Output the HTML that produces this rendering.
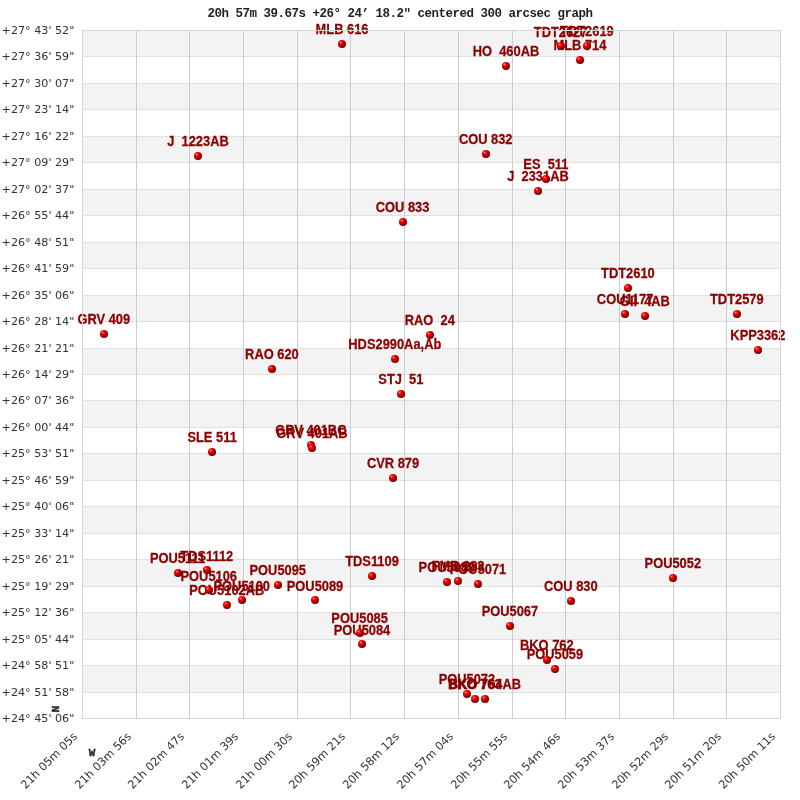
<!DOCTYPE html><html><head><meta charset="utf-8"><style>html,body{margin:0;padding:0;background:#fff;width:800px;height:800px;overflow:hidden}svg{display:block;will-change:transform}.yl{font-family:"DejaVu Sans",sans-serif;font-size:11.15px;fill:#333333}.xl{font-family:"DejaVu Sans",sans-serif;font-size:11.3px;fill:#333333}.lb{font-family:"Liberation Sans",Arial,sans-serif;font-weight:bold;font-size:14px;fill:#8b0000;stroke:#8b0000;stroke-width:0.25px}.tt{font-family:"Liberation Mono",monospace;font-weight:bold;font-size:12.5px;letter-spacing:-0.5px;fill:#222}</style></head><body>
<svg width="800" height="800" viewBox="0 0 800 800">
<defs><radialGradient id="g" cx="0.36" cy="0.33" r="0.75" fx="0.34" fy="0.3"><stop offset="0" stop-color="#ffb0b0"/><stop offset="0.12" stop-color="#ff4545"/><stop offset="0.3" stop-color="#f00000"/><stop offset="0.55" stop-color="#c00000"/><stop offset="0.8" stop-color="#800000"/><stop offset="1" stop-color="#380000"/></radialGradient></defs>
<text class="tt" x="400" y="17" text-anchor="middle">20h 57m 39.67s +26° 24’ 18.2" centered 300 arcsec graph</text>
<rect x="82" y="30" width="698" height="26" fill="#f3f3f3"/>
<rect x="82" y="83" width="698" height="26" fill="#f3f3f3"/>
<rect x="82" y="136" width="698" height="26" fill="#f3f3f3"/>
<rect x="82" y="189" width="698" height="26" fill="#f3f3f3"/>
<rect x="82" y="242" width="698" height="26" fill="#f3f3f3"/>
<rect x="82" y="295" width="698" height="26" fill="#f3f3f3"/>
<rect x="82" y="348" width="698" height="26" fill="#f3f3f3"/>
<rect x="82" y="400" width="698" height="27" fill="#f3f3f3"/>
<rect x="82" y="453" width="698" height="27" fill="#f3f3f3"/>
<rect x="82" y="506" width="698" height="27" fill="#f3f3f3"/>
<rect x="82" y="559" width="698" height="27" fill="#f3f3f3"/>
<rect x="82" y="612" width="698" height="27" fill="#f3f3f3"/>
<rect x="82" y="665" width="698" height="27" fill="#f3f3f3"/>
<rect x="82" y="56" width="698" height="1" fill="#e0e0e0"/>
<rect x="82" y="83" width="698" height="1" fill="#e0e0e0"/>
<rect x="82" y="109" width="698" height="1" fill="#e0e0e0"/>
<rect x="82" y="136" width="698" height="1" fill="#e0e0e0"/>
<rect x="82" y="162" width="698" height="1" fill="#e0e0e0"/>
<rect x="82" y="189" width="698" height="1" fill="#e0e0e0"/>
<rect x="82" y="215" width="698" height="1" fill="#e0e0e0"/>
<rect x="82" y="242" width="698" height="1" fill="#e0e0e0"/>
<rect x="82" y="268" width="698" height="1" fill="#e0e0e0"/>
<rect x="82" y="295" width="698" height="1" fill="#e0e0e0"/>
<rect x="82" y="321" width="698" height="1" fill="#e0e0e0"/>
<rect x="82" y="348" width="698" height="1" fill="#e0e0e0"/>
<rect x="82" y="374" width="698" height="1" fill="#e0e0e0"/>
<rect x="82" y="400" width="698" height="1" fill="#e0e0e0"/>
<rect x="82" y="427" width="698" height="1" fill="#e0e0e0"/>
<rect x="82" y="453" width="698" height="1" fill="#e0e0e0"/>
<rect x="82" y="480" width="698" height="1" fill="#e0e0e0"/>
<rect x="82" y="506" width="698" height="1" fill="#e0e0e0"/>
<rect x="82" y="533" width="698" height="1" fill="#e0e0e0"/>
<rect x="82" y="559" width="698" height="1" fill="#e0e0e0"/>
<rect x="82" y="586" width="698" height="1" fill="#e0e0e0"/>
<rect x="82" y="612" width="698" height="1" fill="#e0e0e0"/>
<rect x="82" y="639" width="698" height="1" fill="#e0e0e0"/>
<rect x="82" y="665" width="698" height="1" fill="#e0e0e0"/>
<rect x="82" y="692" width="698" height="1" fill="#e0e0e0"/>
<rect x="136" y="30" width="1" height="688" fill="#cccccc"/>
<rect x="189" y="30" width="1" height="688" fill="#cccccc"/>
<rect x="243" y="30" width="1" height="688" fill="#cccccc"/>
<rect x="297" y="30" width="1" height="688" fill="#cccccc"/>
<rect x="350" y="30" width="1" height="688" fill="#cccccc"/>
<rect x="404" y="30" width="1" height="688" fill="#cccccc"/>
<rect x="458" y="30" width="1" height="688" fill="#cccccc"/>
<rect x="512" y="30" width="1" height="688" fill="#cccccc"/>
<rect x="565" y="30" width="1" height="688" fill="#cccccc"/>
<rect x="619" y="30" width="1" height="688" fill="#cccccc"/>
<rect x="673" y="30" width="1" height="688" fill="#cccccc"/>
<rect x="726" y="30" width="1" height="688" fill="#cccccc"/>
<text class="yl" x="74.3" y="34" text-anchor="end">+27° 43' 52&quot;</text>
<text class="yl" x="74.3" y="60" text-anchor="end">+27° 36' 59&quot;</text>
<text class="yl" x="74.3" y="87" text-anchor="end">+27° 30' 07&quot;</text>
<text class="yl" x="74.3" y="113" text-anchor="end">+27° 23' 14&quot;</text>
<text class="yl" x="74.3" y="140" text-anchor="end">+27° 16' 22&quot;</text>
<text class="yl" x="74.3" y="166" text-anchor="end">+27° 09' 29&quot;</text>
<text class="yl" x="74.3" y="193" text-anchor="end">+27° 02' 37&quot;</text>
<text class="yl" x="74.3" y="219" text-anchor="end">+26° 55' 44&quot;</text>
<text class="yl" x="74.3" y="246" text-anchor="end">+26° 48' 51&quot;</text>
<text class="yl" x="74.3" y="272" text-anchor="end">+26° 41' 59&quot;</text>
<text class="yl" x="74.3" y="299" text-anchor="end">+26° 35' 06&quot;</text>
<text class="yl" x="74.3" y="325" text-anchor="end">+26° 28' 14&quot;</text>
<text class="yl" x="74.3" y="352" text-anchor="end">+26° 21' 21&quot;</text>
<text class="yl" x="74.3" y="378" text-anchor="end">+26° 14' 29&quot;</text>
<text class="yl" x="74.3" y="404" text-anchor="end">+26° 07' 36&quot;</text>
<text class="yl" x="74.3" y="431" text-anchor="end">+26° 00' 44&quot;</text>
<text class="yl" x="74.3" y="457" text-anchor="end">+25° 53' 51&quot;</text>
<text class="yl" x="74.3" y="484" text-anchor="end">+25° 46' 59&quot;</text>
<text class="yl" x="74.3" y="510" text-anchor="end">+25° 40' 06&quot;</text>
<text class="yl" x="74.3" y="537" text-anchor="end">+25° 33' 14&quot;</text>
<text class="yl" x="74.3" y="563" text-anchor="end">+25° 26' 21&quot;</text>
<text class="yl" x="74.3" y="590" text-anchor="end">+25° 19' 29&quot;</text>
<text class="yl" x="74.3" y="616" text-anchor="end">+25° 12' 36&quot;</text>
<text class="yl" x="74.3" y="643" text-anchor="end">+25° 05' 44&quot;</text>
<text class="yl" x="74.3" y="669" text-anchor="end">+24° 58' 51&quot;</text>
<text class="yl" x="74.3" y="696" text-anchor="end">+24° 51' 58&quot;</text>
<text class="yl" x="74.3" y="722" text-anchor="end">+24° 45' 06&quot;</text>
<text class="xl" x="78" y="737" text-anchor="end" transform="rotate(-45 78 737)">21h 05m 05s</text>
<text class="xl" x="132" y="737" text-anchor="end" transform="rotate(-45 132 737)">21h 03m 56s</text>
<text class="xl" x="185" y="737" text-anchor="end" transform="rotate(-45 185 737)">21h 02m 47s</text>
<text class="xl" x="239" y="737" text-anchor="end" transform="rotate(-45 239 737)">21h 01m 39s</text>
<text class="xl" x="293" y="737" text-anchor="end" transform="rotate(-45 293 737)">21h 00m 30s</text>
<text class="xl" x="346" y="737" text-anchor="end" transform="rotate(-45 346 737)">20h 59m 21s</text>
<text class="xl" x="400" y="737" text-anchor="end" transform="rotate(-45 400 737)">20h 58m 12s</text>
<text class="xl" x="454" y="737" text-anchor="end" transform="rotate(-45 454 737)">20h 57m 04s</text>
<text class="xl" x="508" y="737" text-anchor="end" transform="rotate(-45 508 737)">20h 55m 55s</text>
<text class="xl" x="561" y="737" text-anchor="end" transform="rotate(-45 561 737)">20h 54m 46s</text>
<text class="xl" x="615" y="737" text-anchor="end" transform="rotate(-45 615 737)">20h 53m 37s</text>
<text class="xl" x="669" y="737" text-anchor="end" transform="rotate(-45 669 737)">20h 52m 29s</text>
<text class="xl" x="722" y="737" text-anchor="end" transform="rotate(-45 722 737)">20h 51m 20s</text>
<text class="xl" x="776" y="737" text-anchor="end" transform="rotate(-45 776 737)">20h 50m 11s</text>
<text class="lb" transform="translate(342 34) scale(0.92 1)" text-anchor="middle" xml:space="preserve">MLB 616</text>
<text class="lb" transform="translate(506 56) scale(0.92 1)" text-anchor="middle" xml:space="preserve">HO  460AB</text>
<text class="lb" transform="translate(560.6 36.5) scale(0.92 1)" text-anchor="middle" xml:space="preserve">TDT2627</text>
<text class="lb" transform="translate(586.9 35.6) scale(0.92 1)" text-anchor="middle" xml:space="preserve">TDT2619</text>
<text class="lb" transform="translate(579.9 49.75) scale(0.92 1)" text-anchor="middle" xml:space="preserve">MLB 714</text>
<text class="lb" transform="translate(198 145.75) scale(0.92 1)" text-anchor="middle" xml:space="preserve">J  1223AB</text>
<text class="lb" transform="translate(485.7 143.8) scale(0.92 1)" text-anchor="middle" xml:space="preserve">COU 832</text>
<text class="lb" transform="translate(545.9 168.6) scale(0.92 1)" text-anchor="middle" xml:space="preserve">ES  511</text>
<text class="lb" transform="translate(538 180.7) scale(0.92 1)" text-anchor="middle" xml:space="preserve">J  2331AB</text>
<text class="lb" transform="translate(402.6 211.8) scale(0.92 1)" text-anchor="middle" xml:space="preserve">COU 833</text>
<text class="lb" transform="translate(627.9 278.3) scale(0.92 1)" text-anchor="middle" xml:space="preserve">TDT2610</text>
<text class="lb" transform="translate(625.1 303.6) scale(0.92 1)" text-anchor="middle" xml:space="preserve">COU1177</text>
<text class="lb" transform="translate(644.9 305.9) scale(0.92 1)" text-anchor="middle" xml:space="preserve">GII  4AB</text>
<text class="lb" transform="translate(736.8 303.9) scale(0.92 1)" text-anchor="middle" xml:space="preserve">TDT2579</text>
<text class="lb" transform="translate(757.9 339.7) scale(0.92 1)" text-anchor="middle" xml:space="preserve">KPP3362</text>
<text class="lb" transform="translate(103.8 323.8) scale(0.92 1)" text-anchor="middle" xml:space="preserve">GRV 409</text>
<text class="lb" transform="translate(429.8 325.2) scale(0.92 1)" text-anchor="middle" xml:space="preserve">RAO  24</text>
<text class="lb" transform="translate(394.8 348.6) scale(0.92 1)" text-anchor="middle" xml:space="preserve">HDS2990Aa,Ab</text>
<text class="lb" transform="translate(271.9 358.8) scale(0.92 1)" text-anchor="middle" xml:space="preserve">RAO 620</text>
<text class="lb" transform="translate(400.9 383.8) scale(0.92 1)" text-anchor="middle" xml:space="preserve">STJ  51</text>
<text class="lb" transform="translate(310.8 434.6) scale(0.92 1)" text-anchor="middle" xml:space="preserve">GRV 401BC</text>
<text class="lb" transform="translate(312 438) scale(0.92 1)" text-anchor="middle" xml:space="preserve">GRV 401AB</text>
<text class="lb" transform="translate(212.1 441.9) scale(0.92 1)" text-anchor="middle" xml:space="preserve">SLE 511</text>
<text class="lb" transform="translate(393 467.7) scale(0.92 1)" text-anchor="middle" xml:space="preserve">CVR 879</text>
<text class="lb" transform="translate(177.5 563.3) scale(0.92 1)" text-anchor="middle" xml:space="preserve">POU5111</text>
<text class="lb" transform="translate(206.75 560.5) scale(0.92 1)" text-anchor="middle" xml:space="preserve">TDS1112</text>
<text class="lb" transform="translate(208.75 580.5) scale(0.92 1)" text-anchor="middle" xml:space="preserve">POU5106</text>
<text class="lb" transform="translate(226.75 595) scale(0.92 1)" text-anchor="middle" xml:space="preserve">POU5102AB</text>
<text class="lb" transform="translate(241.75 590.5) scale(0.92 1)" text-anchor="middle" xml:space="preserve">POU5100</text>
<text class="lb" transform="translate(277.75 575) scale(0.92 1)" text-anchor="middle" xml:space="preserve">POU5095</text>
<text class="lb" transform="translate(315 590.5) scale(0.92 1)" text-anchor="middle" xml:space="preserve">POU5089</text>
<text class="lb" transform="translate(372 565.75) scale(0.92 1)" text-anchor="middle" xml:space="preserve">TDS1109</text>
<text class="lb" transform="translate(446.8 572) scale(0.92 1)" text-anchor="middle" xml:space="preserve">POU5080</text>
<text class="lb" transform="translate(458 570.9) scale(0.92 1)" text-anchor="middle" xml:space="preserve">FMR 283</text>
<text class="lb" transform="translate(478 573.75) scale(0.92 1)" text-anchor="middle" xml:space="preserve">POU5071</text>
<text class="lb" transform="translate(672.8 567.9) scale(0.92 1)" text-anchor="middle" xml:space="preserve">POU5052</text>
<text class="lb" transform="translate(570.8 591) scale(0.92 1)" text-anchor="middle" xml:space="preserve">COU 830</text>
<text class="lb" transform="translate(509.9 615.9) scale(0.92 1)" text-anchor="middle" xml:space="preserve">POU5067</text>
<text class="lb" transform="translate(359.6 622.6) scale(0.92 1)" text-anchor="middle" xml:space="preserve">POU5085</text>
<text class="lb" transform="translate(362 634.5) scale(0.92 1)" text-anchor="middle" xml:space="preserve">POU5084</text>
<text class="lb" transform="translate(546.8 649.5) scale(0.92 1)" text-anchor="middle" xml:space="preserve">BKO 762</text>
<text class="lb" transform="translate(554.9 658.6) scale(0.92 1)" text-anchor="middle" xml:space="preserve">POU5059</text>
<text class="lb" transform="translate(466.9 683.75) scale(0.92 1)" text-anchor="middle" xml:space="preserve">POU5072</text>
<text class="lb" transform="translate(474.75 688.75) scale(0.92 1)" text-anchor="middle" xml:space="preserve">BKO 763</text>
<text class="lb" transform="translate(485 688.75) scale(0.92 1)" text-anchor="middle" xml:space="preserve">BKO 764AB</text>
<rect x="82.5" y="30.5" width="698" height="688" fill="none" stroke="#d6d6d6" stroke-width="1"/>
<circle cx="342" cy="44" r="4" fill="url(#g)"/>
<circle cx="506" cy="66" r="4" fill="url(#g)"/>
<circle cx="561" cy="46" r="4" fill="url(#g)"/>
<circle cx="587" cy="46" r="4" fill="url(#g)"/>
<circle cx="580" cy="60" r="4" fill="url(#g)"/>
<circle cx="198" cy="156" r="4" fill="url(#g)"/>
<circle cx="486" cy="154" r="4" fill="url(#g)"/>
<circle cx="546" cy="179" r="4" fill="url(#g)"/>
<circle cx="538" cy="191" r="4" fill="url(#g)"/>
<circle cx="403" cy="222" r="4" fill="url(#g)"/>
<circle cx="628" cy="288" r="4" fill="url(#g)"/>
<circle cx="625" cy="314" r="4" fill="url(#g)"/>
<circle cx="645" cy="316" r="4" fill="url(#g)"/>
<circle cx="737" cy="314" r="4" fill="url(#g)"/>
<circle cx="758" cy="350" r="4" fill="url(#g)"/>
<circle cx="104" cy="334" r="4" fill="url(#g)"/>
<circle cx="430" cy="335" r="4" fill="url(#g)"/>
<circle cx="395" cy="359" r="4" fill="url(#g)"/>
<circle cx="272" cy="369" r="4" fill="url(#g)"/>
<circle cx="401" cy="394" r="4" fill="url(#g)"/>
<circle cx="311" cy="445" r="4" fill="url(#g)"/>
<circle cx="312" cy="448" r="4" fill="url(#g)"/>
<circle cx="212" cy="452" r="4" fill="url(#g)"/>
<circle cx="393" cy="478" r="4" fill="url(#g)"/>
<circle cx="178" cy="573" r="4" fill="url(#g)"/>
<circle cx="207" cy="570" r="4" fill="url(#g)"/>
<circle cx="209" cy="590" r="4" fill="url(#g)"/>
<circle cx="227" cy="605" r="4" fill="url(#g)"/>
<circle cx="242" cy="600" r="4" fill="url(#g)"/>
<circle cx="278" cy="585" r="4" fill="url(#g)"/>
<circle cx="315" cy="600" r="4" fill="url(#g)"/>
<circle cx="372" cy="576" r="4" fill="url(#g)"/>
<circle cx="447" cy="582" r="4" fill="url(#g)"/>
<circle cx="458" cy="581" r="4" fill="url(#g)"/>
<circle cx="478" cy="584" r="4" fill="url(#g)"/>
<circle cx="673" cy="578" r="4" fill="url(#g)"/>
<circle cx="571" cy="601" r="4" fill="url(#g)"/>
<circle cx="510" cy="626" r="4" fill="url(#g)"/>
<circle cx="360" cy="633" r="4" fill="url(#g)"/>
<circle cx="362" cy="644" r="4" fill="url(#g)"/>
<circle cx="547" cy="660" r="4" fill="url(#g)"/>
<circle cx="555" cy="669" r="4" fill="url(#g)"/>
<circle cx="467" cy="694" r="4" fill="url(#g)"/>
<circle cx="475" cy="699" r="4" fill="url(#g)"/>
<circle cx="485" cy="699" r="4" fill="url(#g)"/>
<text x="54.8" y="709" font-family="Liberation Mono,monospace" font-weight="bold" font-size="11" fill="#2a2a2a" stroke="#2a2a2a" stroke-width="0.5" text-anchor="middle" transform="rotate(90 54.8 709)" dominant-baseline="central">N</text>
<text x="92" y="755.5" font-family="Liberation Mono,monospace" font-weight="bold" font-size="11" fill="#2a2a2a" stroke="#2a2a2a" stroke-width="0.4" text-anchor="middle">W</text>
</svg></body></html>
